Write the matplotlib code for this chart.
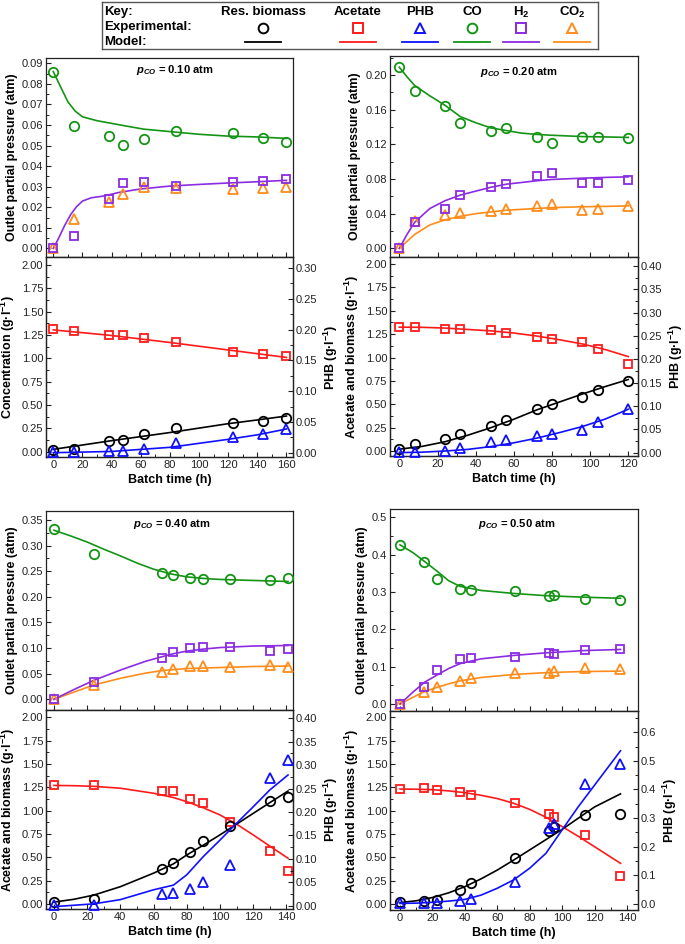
import matplotlib
matplotlib.use('Agg')
import matplotlib.pyplot as plt
from matplotlib.ticker import MultipleLocator, FormatStrFormatter

plt.rcParams['font.family'] = ['Liberation Sans', 'DejaVu Sans']
plt.rcParams['mathtext.fontset'] = 'custom'
plt.rcParams['mathtext.rm'] = 'Liberation Sans:bold'
plt.rcParams['mathtext.it'] = 'Liberation Sans:italic:bold'
plt.rcParams['mathtext.bf'] = 'Liberation Sans:bold'
plt.rcParams['xtick.direction'] = 'in'
plt.rcParams['ytick.direction'] = 'in'
plt.rcParams['xtick.major.size'] = 3.5
plt.rcParams['ytick.major.size'] = 3.5
plt.rcParams['xtick.minor.size'] = 2
plt.rcParams['ytick.minor.size'] = 2
plt.rcParams['axes.linewidth'] = 0.9
plt.rcParams['axes.edgecolor'] = '#222222'

C_BIO = 'black'
C_AC = '#ff1a1a'
C_PHB = '#1010ff'
C_CO = '#149414'
C_H2 = '#8b2be2'
C_CO2 = '#ff8c1a'

# ---------------- panel A : pCO = 0.10 atm ----------------
tA = [0, 14, 38, 48, 62, 84, 123, 144, 160]
coA = [0.086, 0.0597, 0.0548, 0.0503, 0.053, 0.057, 0.0561, 0.0535, 0.0517]
h2A = [0.0, 0.0058, 0.0238, 0.0318, 0.0323, 0.0303, 0.0321, 0.0328, 0.0339]
co2A = [0.0, 0.0143, 0.0225, 0.0263, 0.0298, 0.0292, 0.0287, 0.0292, 0.0298]
acA = [1.31, 1.296, 1.254, 1.254, 1.218, 1.175, 1.064, 1.043, 1.025]
bioA = [0.018, 0.029, 0.114, 0.129, 0.186, 0.257, 0.307, 0.329, 0.361]
phbA = [0.0016, 0.0016, 0.003, 0.003, 0.0065, 0.016, 0.025, 0.031, 0.039]
tA_co_m = [0, 5, 10, 15, 20, 30, 40, 50, 62, 80, 100, 120, 140, 160]
coA_m = [0.086, 0.0786, 0.0713, 0.0668, 0.064, 0.0621, 0.0608, 0.0595, 0.058,
         0.0568, 0.0555, 0.0546, 0.0542, 0.0535]
tA_h2_m = [0, 3, 8, 12, 16, 20, 26, 35, 45, 60, 80, 100, 120, 140, 160]
h2A_m = [0, 0.004, 0.0114, 0.0165, 0.0203, 0.023, 0.0246, 0.0255, 0.0272,
         0.0289, 0.0303, 0.0311, 0.0318, 0.0324, 0.0331]
tA_liq_m = [0, 40, 80, 120, 140, 160]
acA_m = [1.305, 1.245, 1.17, 1.09, 1.05, 1.01]
bioA_m = [0.025, 0.118, 0.205, 0.30, 0.34, 0.382]
phbA_m = [0.0, 0.002, 0.0087, 0.0217, 0.029, 0.0385]

# ---------------- panel B : pCO = 0.20 atm ----------------
tB = [0, 8, 24, 32, 48, 56, 72, 80, 96, 104, 120]
coB = [0.209, 0.182, 0.164, 0.145, 0.136, 0.139, 0.128, 0.122, 0.128, 0.129, 0.127]
h2B = [0.0, 0.030, 0.045, 0.0615, 0.071, 0.0746, 0.0838, 0.0865, 0.0758, 0.0754, 0.0788]
co2B = [0.0, 0.032, 0.039, 0.0408, 0.0427, 0.045, 0.049, 0.051, 0.044, 0.0458, 0.049]
acB = [1.33, 1.33, 1.305, 1.30, 1.29, 1.266, 1.223, 1.198, 1.17, 1.095, 0.934]
bioB = [0.021, 0.078, 0.132, 0.182, 0.267, 0.328, 0.449, 0.503, 0.574, 0.649, 0.752]
phbB = [0.0014, 0.0014, 0.004, 0.009, 0.022, 0.026, 0.036, 0.040, 0.0486, 0.065, 0.093]
tB_gas_m = [0, 4, 8, 16, 24, 32, 40, 48, 56, 64, 72, 80, 96, 110, 120]
coB_m = [0.209, 0.198, 0.188, 0.176, 0.165, 0.152, 0.145, 0.139, 0.136, 0.133,
         0.1315, 0.1305, 0.129, 0.1285, 0.128]
h2B_m = [0, 0.016, 0.03, 0.046, 0.055, 0.0615, 0.066, 0.0705, 0.074, 0.076,
         0.078, 0.0795, 0.081, 0.082, 0.0825]
co2B_m = [0, 0.008, 0.016, 0.027, 0.033, 0.037, 0.040, 0.042, 0.044, 0.045,
          0.046, 0.047, 0.048, 0.0485, 0.049]
tB_liq_m = [0, 12, 24, 36, 48, 60, 72, 84, 96, 108, 120]
acB_m = [1.325, 1.323, 1.315, 1.30, 1.285, 1.262, 1.23, 1.19, 1.145, 1.085, 1.01]
bioB_m = [0.02, 0.05, 0.10, 0.17, 0.25, 0.34, 0.44, 0.525, 0.61, 0.69, 0.765]
phbB_m = [0.0, 0.001, 0.0035, 0.007, 0.013, 0.021, 0.031, 0.043, 0.056, 0.072, 0.093]

# ---------------- panel C : pCO = 0.40 atm ----------------
tC = [0, 24, 65, 72, 82, 90, 106, 130, 141]
coC = [0.3325, 0.284, 0.246, 0.243, 0.2375, 0.235, 0.234, 0.233, 0.236]
h2C = [0.0, 0.033, 0.081, 0.092, 0.0995, 0.103, 0.103, 0.094, 0.098]
co2C = [0.0, 0.028, 0.054, 0.0585, 0.065, 0.065, 0.064, 0.066, 0.063]
acC = [1.27, 1.27, 1.21, 1.21, 1.12, 1.08, 0.875, 0.57, 0.35]
bioC = [0.02, 0.05, 0.37, 0.44, 0.56, 0.67, 0.83, 1.10, 1.15]
phbC = [0.002, 0.002, 0.026, 0.028, 0.036, 0.051, 0.087, 0.272, 0.31]
tC_co_m = [0, 10, 20, 30, 40, 50, 60, 70, 80, 90, 100, 120, 141]
coC_m = [0.330, 0.319, 0.307, 0.293, 0.280, 0.266, 0.254, 0.245, 0.239, 0.236,
         0.234, 0.232, 0.230]
tC_h2_m = [0, 12, 24, 40, 55, 65, 72, 80, 90, 100, 120, 141]
h2C_m = [0, 0.019, 0.037, 0.057, 0.074, 0.083, 0.089, 0.094, 0.098, 0.101, 0.104, 0.105]
co2C_m = [0, 0.014, 0.028, 0.041, 0.051, 0.056, 0.058, 0.060, 0.061, 0.062, 0.064, 0.065]
tC_liq_m = [0, 12, 24, 40, 60, 72, 80, 90, 100, 110, 120, 130, 141]
acC_m = [1.27, 1.267, 1.26, 1.24, 1.186, 1.14, 1.096, 1.03, 0.954, 0.855, 0.74, 0.62, 0.49]
bioC_m = [0.02, 0.05, 0.095, 0.185, 0.33, 0.43, 0.525, 0.63, 0.74, 0.855, 0.97, 1.085, 1.21]
phbC_m = [-0.002, 0.001, 0.004, 0.013, 0.034, 0.044, 0.066, 0.105, 0.14, 0.176, 0.211,
          0.247, 0.279]

# ---------------- panel D : pCO = 0.50 atm ----------------
tD = [0, 15, 23, 37, 44, 71, 92, 95, 114, 136]
coD = [0.426, 0.381, 0.335, 0.307, 0.304, 0.302, 0.288, 0.292, 0.280, 0.279]
h2D = [0.0, 0.045, 0.090, 0.12, 0.122, 0.125, 0.1375, 0.134, 0.145, 0.147]
co2D = [0.0, 0.032, 0.045, 0.062, 0.07, 0.084, 0.084, 0.088, 0.0955, 0.093]
acD = [1.232, 1.239, 1.218, 1.20, 1.168, 1.086, 0.968, 0.932, 0.736, 0.304]
bioD = [0.018, 0.032, 0.04, 0.154, 0.225, 0.493, 0.786, 0.82, 0.95, 0.964]
phbD = [0.0035, 0.0035, 0.0035, 0.009, 0.0175, 0.078, 0.267, 0.28, 0.418, 0.49]
tD_gas_m = [0, 8, 15, 23, 30, 37, 50, 70, 90, 113, 136]
coD_m = [0.426, 0.405, 0.382, 0.355, 0.33, 0.315, 0.304, 0.296, 0.29, 0.286, 0.283]
h2D_m = [0, 0.032, 0.058, 0.078, 0.095, 0.108, 0.121, 0.13, 0.137, 0.143, 0.146]
co2D_m = [0, 0.018, 0.033, 0.045, 0.054, 0.062, 0.071, 0.079, 0.084, 0.087, 0.088]
tD_liq_m = [0, 10, 20, 30, 40, 50, 60, 70, 80, 90, 100, 110, 120, 136]
acD_m = [1.232, 1.23, 1.225, 1.212, 1.193, 1.165, 1.13, 1.08, 1.014, 0.93, 0.83, 0.725,
         0.614, 0.436]
bioD_m = [0.015, 0.035, 0.07, 0.12, 0.186, 0.27, 0.364, 0.47, 0.58, 0.69, 0.80, 0.92,
          1.04, 1.18]
phbD_m = [0.002, 0.003, 0.006, 0.01, 0.016, 0.031, 0.055, 0.084, 0.125, 0.177, 0.259,
          0.34, 0.415, 0.535]

W, H = 685, 944


def box(l, t, r, b):
    return [l / W, 1 - b / H, (r - l) / W, (b - t) / H]


def style(ax, ymaj, ymin, fmt, xmaj=20, xmin=10):
    ax.xaxis.set_major_locator(MultipleLocator(xmaj))
    ax.xaxis.set_minor_locator(MultipleLocator(xmin))
    ax.yaxis.set_major_locator(MultipleLocator(ymaj))
    ax.yaxis.set_minor_locator(MultipleLocator(ymin))
    ax.yaxis.set_major_formatter(FormatStrFormatter(fmt))
    ax.tick_params(labelsize=8, colors='#222222', pad=2)
    ax.tick_params(which='both', top=False, right=False)


def pts(ax, x, y, m, c, ms):
    ax.plot(x, y, ls='none', marker=m, ms=ms, mfc='none', mec=c, mew=1.3, clip_on=False, zorder=3)


fig = plt.figure(figsize=(6.85, 9.44), dpi=100)

panels = [
    dict(pos=(46, 293, 58, 257, 457), xlim=(-5, 164.5), uyl=(-0.0042, 0.0926), ut=(0.01, 0.005, '%.2f'),
         lyl=(-0.057, 2.086), ryl=(-0.007, 0.318), rt=(0.05, 0.025, '%.2f'), title='0.10',
         tpos=(0.52, 0.94), llab='Concentration (g·l$^{-1}$)',
         t=tA, co=coA, h2=h2A, co2=co2A, ac=acA, bio=bioA, phb=phbA,
         gas_m=[(tA_co_m, coA_m, C_CO), (tA_h2_m, h2A_m, C_H2)],
         liq_m=(tA_liq_m, acA_m, bioA_m, phbA_m)),
    dict(pos=(390, 638, 56, 257, 456), xlim=(-4.9, 125.1), uyl=(-0.010, 0.222), ut=(0.04, 0.02, '%.2f'),
         lyl=(-0.053, 2.075), ryl=(-0.0072, 0.419), rt=(0.05, 0.025, '%.2f'), title='0.20',
         tpos=(0.52, 0.92), llab='Acetate and biomass (g·l$^{-1}$)',
         t=tB, co=coB, h2=h2B, co2=co2B, ac=acB, bio=bioB, phb=phbB,
         gas_m=[(tB_gas_m, coB_m, C_CO), (tB_gas_m, co2B_m, C_CO2), (tB_gas_m, h2B_m, C_H2)],
         liq_m=(tB_liq_m, acB_m, bioB_m, phbB_m)),
    dict(pos=(46, 293, 511, 710, 909), xlim=(-4.8, 144), uyl=(-0.0209, 0.3676), ut=(0.05, 0.025, '%.2f'),
         lyl=(-0.054, 2.078), ryl=(-0.007, 0.4177), rt=(0.05, 0.025, '%.2f'), title='0.40',
         tpos=(0.51, 0.935), llab='Acetate and biomass (g·l$^{-1}$)',
         t=tC, co=coC, h2=h2C, co2=co2C, ac=acC, bio=bioC, phb=phbC,
         gas_m=[(tC_co_m, coC_m, C_CO), (tC_h2_m, co2C_m, C_CO2), (tC_h2_m, h2C_m, C_H2)],
         liq_m=(tC_liq_m, acC_m, bioC_m, phbC_m)),
    dict(pos=(390, 638, 509, 711, 910), xlim=(-6.2, 146.8), uyl=(-0.0187, 0.522), ut=(0.1, 0.05, '%.1f'),
         lyl=(-0.064, 2.068), ryl=(-0.021, 0.674), rt=(0.1, 0.05, '%.1f'), title='0.50',
         tpos=(0.51, 0.926), llab='Acetate and biomass (g·l$^{-1}$)',
         t=tD, co=coD, h2=h2D, co2=co2D, ac=acD, bio=bioD, phb=phbD,
         gas_m=[(tD_gas_m, coD_m, C_CO), (tD_gas_m, co2D_m, C_CO2), (tD_gas_m, h2D_m, C_H2)],
         liq_m=(tD_liq_m, acD_m, bioD_m, phbD_m)),
]

for p in panels:
    l, r, top, mid, bot = p['pos']
    up = fig.add_axes(box(l, top, r, mid))
    lo = fig.add_axes(box(l, mid, r, bot))
    rt = lo.twinx()

    # gas phase
    for tm, ym, c in p['gas_m']:
        up.plot(tm, ym, color=c, lw=1.2, zorder=2)
    pts(up, p['t'], p['co2'], '^', C_CO2, 7.2)
    pts(up, p['t'], p['co'], 'o', C_CO, 6.8)
    pts(up, p['t'], p['h2'], 's', C_H2, 6.2)
    up.set_xlim(*p['xlim'])
    up.set_ylim(*p['uyl'])
    style(up, *p['ut'])
    up.tick_params(labelbottom=False)
    up.set_ylabel('Outlet partial pressure (atm)', fontsize=9, fontweight='bold', labelpad=3)
    up.text(p['tpos'][0], p['tpos'][1], r'$p_{CO}$ = ' + p['title'] + ' atm',
            transform=up.transAxes, ha='center', va='center', fontsize=8, fontweight='bold')

    # liquid phase
    tm, am, bm, pm = p['liq_m']
    lo.plot(tm, am, color=C_AC, lw=1.2, zorder=2)
    lo.plot(tm, bm, color=C_BIO, lw=1.2, zorder=2)
    pts(lo, p['t'], p['ac'], 's', C_AC, 6.2)
    pts(lo, p['t'], p['bio'], 'o', C_BIO, 6.8)
    rt.plot(tm, pm, color=C_PHB, lw=1.2, zorder=2)
    pts(rt, p['t'], p['phb'], '^', C_PHB, 7.2)
    lo.set_xlim(*p['xlim'])
    lo.set_ylim(*p['lyl'])
    rt.set_ylim(*p['ryl'])
    style(lo, 0.25, 0.125, '%.2f')
    style(rt, *p['rt'])
    rt.tick_params(which='both', right=True, left=False, labelright=True, labelleft=False)
    lo.set_ylabel(p['llab'], fontsize=9, fontweight='bold', labelpad=3)
    rt.set_ylabel('PHB (g·l$^{-1}$)', fontsize=9, fontweight='bold', labelpad=3)
    lo.set_xlabel('Batch time (h)', fontsize=9, fontweight='bold', labelpad=3)

# ---------------- key box ----------------
kx0, kx1, ky0, ky1 = 102, 598, 2, 49
key = fig.add_axes(box(kx0, ky0, kx1, ky1))
key.set_xlim(kx0, kx1)
key.set_ylim(ky1, ky0)
key.set_xticks([])
key.set_yticks([])
for s in key.spines.values():
    s.set_color('#555555')
    s.set_linewidth(1.0)

key_names = ['Res. biomass', 'Acetate', 'PHB', 'CO', 'H$_2$', 'CO$_2$']
key_x = [263, 358, 420, 472, 521, 572]
key_colors = [C_BIO, C_AC, C_PHB, C_CO, C_H2, C_CO2]
key_markers = ['o', 's', '^', 'o', 's', '^']
kfs = 9.5
key.text(104, 12, 'Key:', fontsize=kfs, fontweight='bold', va='center', ha='left')
key.text(104, 27, 'Experimental:', fontsize=kfs, fontweight='bold', va='center', ha='left')
key.text(104, 42, 'Model:', fontsize=kfs, fontweight='bold', va='center', ha='left')
for name, x, c, m in zip(key_names, key_x, key_colors, key_markers):
    key.text(x, 12, name, fontsize=kfs, fontweight='bold', va='center', ha='center')
    key.plot([x], [27.5], ls='none', marker=m, ms=7, mfc='none', mec=c, mew=1.4)
    key.plot([x - 18, x + 18], [42, 42], color=c, lw=1.3)

fig.savefig('out.png', dpi=100)
